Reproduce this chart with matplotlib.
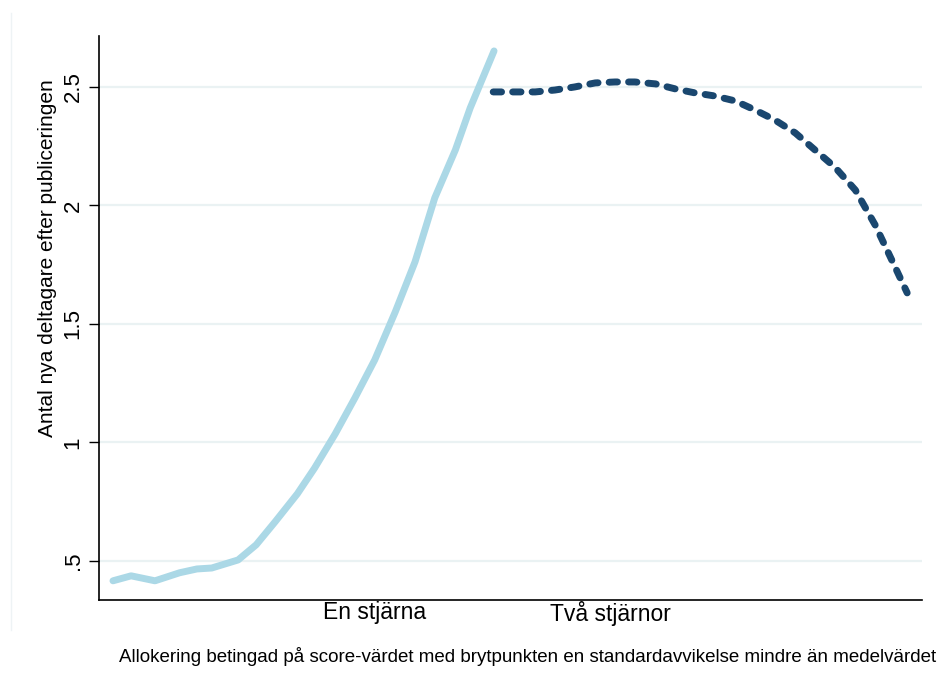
import numpy as np
import matplotlib.pyplot as plt
from matplotlib.lines import Line2D

plt.rcParams['font.family'] = ['Liberation Sans', 'DejaVu Sans']

# score (0-10 scale) and mean number of new participants, one star below the cutoff
x_one = [0.17, 0.39, 0.68, 0.98, 1.19, 1.37, 1.69, 1.91, 2.14, 2.41,
         2.62, 2.87, 3.11, 3.35, 3.60, 3.84, 4.08, 4.33, 4.51, 4.80]
y_one = [0.416, 0.437, 0.416, 0.450, 0.466, 0.470, 0.504, 0.568, 0.665, 0.783,
         0.892, 1.036, 1.188, 1.348, 1.551, 1.762, 2.032, 2.234, 2.411, 2.652]

# two stars above the cutoff
x_two = [4.79, 5.03, 5.30, 5.54, 5.78, 6.03, 6.27, 6.51, 6.76, 7.00, 7.24,
         7.48, 7.73, 7.97, 8.21, 8.46, 8.70, 8.94, 9.19, 9.43, 9.65, 9.82]
y_two = [2.479, 2.479, 2.479, 2.487, 2.500, 2.517, 2.521, 2.521, 2.513, 2.492, 2.475,
         2.462, 2.441, 2.403, 2.361, 2.306, 2.234, 2.162, 2.065, 1.918, 1.757, 1.631]

yticks = [0.5, 1, 1.5, 2, 2.5]
ytick_labels = ['.5', '1', '1.5', '2', '2.5']
xlab_pos = [3.35, 6.21]
xlab_text = ['En stjärna', 'Två stjärnor']

fig = plt.figure(figsize=(9.38, 6.84), dpi=100)
ax = fig.add_axes([99/938, 1 - 600/684, (922 - 99)/938, (600 - 36)/684])

for yv in yticks:
    ax.axhline(yv, color='#eaf2f3', lw=1.6, zorder=0)

ax.plot(x_one, y_one, color='#abd8e6', lw=5.0, solid_capstyle='round',
        solid_joinstyle='round')
ax.plot(x_two, y_two, color='#1a476f', lw=5.0, linestyle=(0, (1.2, 1.6)),
        dash_capstyle='round', dash_joinstyle='round')

ax.set_xlim(0, 10)
ax.set_ylim(0.335, 2.715)
ax.set_yticks(yticks)
ax.set_yticklabels(ytick_labels, rotation=90, va='center', fontsize=16)
ax.set_xticks(xlab_pos)
ax.set_xticklabels(xlab_text, fontsize=16.5)
ax.tick_params(axis='x', length=0, pad=1)
ax.tick_params(axis='y', length=7, width=1, pad=4)
ax.spines['top'].set_visible(False)
ax.spines['right'].set_visible(False)
ax.spines['left'].set_linewidth(1.2)
ax.spines['bottom'].set_linewidth(1.2)

ax.set_ylabel('Antal nya deltagare efter publiceringen', fontsize=15)
ax.yaxis.set_label_coords(-0.051, 0.606)

fig.text(936/938, 1 - 656/684, 'Allokering betingad på score-värdet med brytpunkten '
         'en standardavvikelse mindre än medelvärdet', ha='right', va='center',
         fontsize=13.5)

# faint outer frame edge
fig.add_artist(Line2D([11/938, 11/938], [1 - 13/684, 1 - 630/684],
                      transform=fig.transFigure, color='#eef3f5', lw=1))

fig.savefig('out.png', dpi=100)
